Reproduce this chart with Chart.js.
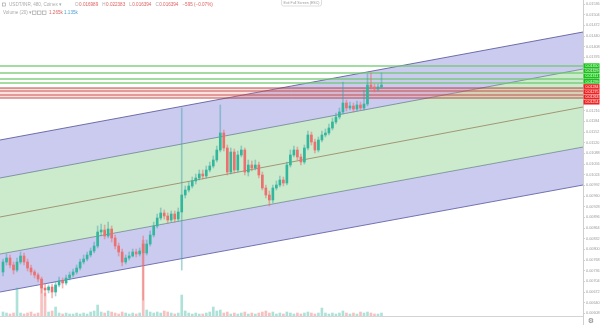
<!DOCTYPE html>
<html><head><meta charset="utf-8">
<script src="https://cdn.jsdelivr.net/npm/chart.js@4.4.1/dist/chart.umd.min.js"></script>
<style>html,body{margin:0;padding:0;background:#fff;overflow:hidden}canvas{display:block}</style>
</head><body>
<canvas id="c" width="600" height="325"></canvas>
<script>
// ---- 8h candles, index 0 = Nov 22 00:00 ----
const openP = [0.00732,0.00762,0.00774,0.00753,0.00738,0.00762,0.00780,0.00762,0.00744,0.00732,
0.00723,0.00711,0.00684,0.00678,0.00687,0.00672,0.00693,0.00705,0.00699,0.00714,
0.00723,0.00732,0.00744,0.00762,0.00771,0.00783,0.00795,0.00810,0.00852,0.00858,
0.00840,0.00861,0.00834,0.00810,0.00792,0.00762,0.00774,0.00780,0.00792,0.00786,
0.00816,0.00789,0.00816,0.00843,0.00870,0.00894,0.00909,0.00900,0.00888,0.00906,
0.00891,0.00912,0.00963,0.00978,0.00990,0.01005,0.01014,0.01026,0.01020,0.01038,
0.01050,0.01068,0.01098,0.01149,0.01104,0.01032,0.01092,0.01038,0.01083,0.01098,
0.01032,0.01053,0.01044,0.01053,0.01023,0.00984,0.00963,0.00948,0.00984,0.00993,
0.01008,0.00999,0.01053,0.01083,0.01098,0.01077,0.01062,0.01104,0.01143,0.01122,
0.01098,0.01128,0.01143,0.01149,0.01164,0.01182,0.01197,0.01212,0.01239,0.01224,
0.01230,0.01221,0.01233,0.01224,0.01236,0.01293,0.01287,0.01281,0.01287];
const closeP = [0.00762,0.00774,0.00753,0.00738,0.00762,0.00780,0.00762,0.00744,0.00732,0.00723,
0.00711,0.00684,0.00678,0.00687,0.00672,0.00693,0.00705,0.00699,0.00714,0.00723,
0.00732,0.00744,0.00762,0.00771,0.00783,0.00795,0.00810,0.00852,0.00858,0.00840,
0.00861,0.00834,0.00810,0.00792,0.00762,0.00774,0.00780,0.00792,0.00786,0.00795,
0.00789,0.00816,0.00843,0.00870,0.00894,0.00909,0.00900,0.00888,0.00906,0.00891,
0.00912,0.00963,0.00978,0.00990,0.01005,0.01014,0.01026,0.01020,0.01038,0.01050,
0.01068,0.01098,0.01149,0.01104,0.01032,0.01092,0.01038,0.01083,0.01098,0.01032,
0.01053,0.01044,0.01053,0.01023,0.00984,0.00963,0.00948,0.00984,0.00993,0.01008,
0.00999,0.01053,0.01083,0.01098,0.01077,0.01062,0.01104,0.01143,0.01122,0.01098,
0.01128,0.01143,0.01149,0.01164,0.01182,0.01197,0.01212,0.01239,0.01224,0.01230,
0.01221,0.01233,0.01224,0.01236,0.01293,0.01287,0.01281,0.01287,0.01293];
const highP = [0.00771,0.00786,0.00783,0.00762,0.00774,0.00792,0.00789,0.00771,0.00753,0.00738,
0.00729,0.00717,0.00696,0.00693,0.00696,0.00702,0.00717,0.00714,0.00723,0.00732,
0.00741,0.00753,0.00771,0.00783,0.00792,0.00804,0.00822,0.00870,0.00876,0.00873,
0.00882,0.00870,0.00843,0.00819,0.00801,0.00783,0.00792,0.00801,0.00801,0.00804,
0.00840,0.00828,0.00855,0.00882,0.00906,0.00924,0.00918,0.00909,0.00915,0.00915,
0.00924,0.01224,0.00990,0.01002,0.01017,0.01026,0.01038,0.01038,0.01050,0.01062,
0.01080,0.01110,0.01233,0.01158,0.01113,0.01104,0.01101,0.01095,0.01110,0.01104,
0.01068,0.01065,0.01068,0.01062,0.01032,0.00993,0.00975,0.00993,0.01005,0.01020,
0.01017,0.01062,0.01098,0.01110,0.01107,0.01086,0.01113,0.01155,0.01152,0.01131,
0.01137,0.01155,0.01161,0.01176,0.01194,0.01209,0.01224,0.01302,0.01248,0.01242,
0.01239,0.01245,0.01242,0.01278,0.01326,0.01329,0.01296,0.01296,0.01329];
const lowP = [0.00720,0.00753,0.00744,0.00726,0.00732,0.00756,0.00753,0.00735,0.00723,0.00714,
0.00702,0.00669,0.00660,0.00669,0.00654,0.00660,0.00687,0.00684,0.00693,0.00708,
0.00717,0.00726,0.00738,0.00756,0.00765,0.00777,0.00789,0.00804,0.00840,0.00831,
0.00834,0.00822,0.00801,0.00780,0.00750,0.00756,0.00768,0.00777,0.00777,0.00780,
0.00648,0.00783,0.00810,0.00837,0.00864,0.00888,0.00891,0.00879,0.00882,0.00882,
0.00885,0.00738,0.00954,0.00972,0.00984,0.00996,0.01008,0.01011,0.01014,0.01032,
0.01044,0.01062,0.01092,0.01095,0.01023,0.01026,0.01029,0.01032,0.01077,0.01023,
0.01020,0.01035,0.01038,0.01014,0.00978,0.00954,0.00930,0.00939,0.00978,0.00987,
0.00990,0.00993,0.01047,0.01077,0.01068,0.01053,0.01056,0.01098,0.01113,0.01089,
0.01092,0.01122,0.01137,0.01143,0.01158,0.01176,0.01191,0.01206,0.01215,0.01218,
0.01212,0.01215,0.01218,0.01218,0.01230,0.01281,0.01272,0.01275,0.01284];
const volume = [1200,900,600,900,8400,900,600,900,1200,600,
900,9300,6900,1200,1500,2700,900,600,900,600,
600,900,600,900,600,1200,1500,3300,1200,900,
1500,1200,900,600,1200,900,600,900,600,900,
22800,1800,1200,900,1200,900,1500,1200,900,600,
900,6300,1500,900,600,900,600,600,900,1200,
2700,1500,1800,900,1200,600,900,600,900,1200,
600,900,600,900,1200,1500,900,1200,600,900,
600,1200,900,600,900,600,900,1200,900,600,
900,2400,900,600,900,600,900,1500,900,600,
900,600,1200,900,1200,900,600,600,900];

// time axis
const tickIdx  = [0,9,18,27,36,45,54,63,72,81,90,99,108,120,129,138,147,156,165];
const tickText = ['22','25','28','Dec','4','7','10','13','16','19','22','25','28','2024','4','7','10','13','16'];

// regression channel (start / end of view)
const spanIdx = [-0.86, 165.5];
const chTop        = [0.01128, 0.01452];
const chInnerUpper = [0.01014, 0.01341];
const chMid        = [0.00897, 0.01227];
const chInnerLower = [0.00786, 0.01107];
const chBottom     = [0.00672, 0.00993];

// horizontal levels
const greenLevels = [0.01350, 0.01329, 0.01311, 0.01299];
const redLevels   = [0.01284, 0.01275, 0.01263, 0.01254];

const TEAL = '#33b79c', RED = '#ec7070';
const idx = openP.map((_, i) => i);
const isUp = idx.map(i => closeP[i] >= openP[i]);

function hline(vals, color, extra) {
  return Object.assign({
    type: 'line',
    data: spanIdx.map((x, k) => ({ x: x, y: vals[k] })),
    borderColor: color, borderWidth: 1, pointRadius: 0, fill: false, order: 10
  }, extra || {});
}
const BLUE_FILL = 'rgba(112,112,212,0.36)';
const GREEN_FILL = 'rgba(128,206,128,0.40)';

const datasets = [
  hline(chTop, 'rgba(80,80,150,0.8)', { fill: '+1', backgroundColor: BLUE_FILL }),
  hline(chInnerUpper, 'rgba(90,120,120,0.7)', { fill: '+2', backgroundColor: GREEN_FILL }),
  hline(chMid, 'rgba(170,90,80,0.85)'),
  hline(chInnerLower, 'rgba(90,110,130,0.7)', { fill: '+1', backgroundColor: BLUE_FILL }),
  hline(chBottom, 'rgba(80,80,150,0.8)'),
];
greenLevels.forEach(v => datasets.push(hline([v, v], 'rgba(110,200,110,0.85)', { borderWidth: 1.4, order: 6 })));
redLevels.forEach((v, k) => datasets.push(hline([v, v], 'rgba(175,45,45,0.85)',
  k === 0 ? { order: 6, fill: '+3', backgroundColor: 'rgba(240,120,110,0.22)' } : { order: 6 })));

datasets.push({
  type: 'bar', label: 'volume', yAxisID: 'yv', order: 3, grouped: false,
  data: idx.map(i => ({ x: i, y: volume[i] })),
  backgroundColor: idx.map(i => isUp[i] ? 'rgba(43,179,154,0.38)' : 'rgba(234,107,107,0.42)'),
  barThickness: 2, borderWidth: 0
});
datasets.push({
  type: 'bar', label: 'wick', order: 2, grouped: false,
  data: idx.map(i => ({ x: i, y: [lowP[i], highP[i]] })),
  backgroundColor: idx.map(i => isUp[i] ? 'rgba(60,160,170,0.45)' : 'rgba(234,107,107,0.5)'),
  barThickness: 1, borderWidth: 0, minBarLength: 1
});
datasets.push({
  type: 'bar', label: 'body', order: 1, grouped: false,
  data: idx.map(i => ({ x: i, y: [openP[i], closeP[i]] })),
  backgroundColor: idx.map(i => isUp[i] ? TEAL : RED),
  barThickness: 2, borderWidth: 0, minBarLength: 1
});

const FONT = '"Liberation Sans", Arial, sans-serif';
const overlay = {
  id: 'overlay',
  afterDraw(chart) {
    const c = chart.ctx, ys = chart.scales.y, a = chart.chartArea;
    c.save();
    c.strokeStyle = '#cfcfcf'; c.lineWidth = 1;
    c.beginPath(); c.moveTo(a.right + 0.5, a.bottom); c.lineTo(a.right + 0.5, 325); c.stroke();
    c.fillStyle = '#777'; c.font = '7px "DejaVu Sans"'; c.textAlign = 'center'; c.textBaseline = 'middle';
    c.fillText('⚙', 591, 321);
    // level labels on the price axis
    const levels = greenLevels.map(v => ({ v, col: '#19c219' })).concat(redLevels.map(v => ({ v, col: '#ee2020' })));
    levels.forEach(l => l.y = ys.getPixelForValue(l.v));
    levels.sort((p, q) => p.y - q.y);
    const h = 5.2, mean = levels.reduce((s, l) => s + l.y, 0) / levels.length;
    let top = mean - h * levels.length / 2;
    c.font = '3.6px ' + FONT; c.textAlign = 'left';
    levels.forEach(l => {
      c.fillStyle = l.col; c.fillRect(a.right + 0.5, top, 16, h - 0.4);
      c.fillStyle = '#fff'; c.fillText(l.v.toFixed(5), a.right + 2.5, top + h / 2);
      top += h;
    });
    // header
    c.textBaseline = 'middle'; c.textAlign = 'left';
    c.strokeStyle = '#9a9a9a'; c.lineWidth = 0.6;
    c.strokeRect(2.5, 3, 3, 3);
    c.font = '4.6px ' + FONT; c.fillStyle = '#aaaaaa';
    c.fillText('USDT/INR, 480, Coinex \u25BE', 9, 5);
    let x = 75;
    const parts = [['O', '0.016989'], ['H', '0.022383'], ['L', '0.016394'], ['C', '0.016394']];
    parts.forEach(p => {
      c.fillStyle = '#aaaaaa'; c.fillText(p[0], x, 5); x += c.measureText(p[0]).width + 0.5;
      c.fillStyle = '#e06060'; c.fillText(p[1], x, 5); x += c.measureText(p[1]).width + 4;
    });
    c.fillStyle = '#e06060'; c.fillText('\u2212595 (\u22120.07%)', x, 5);
    c.fillStyle = '#aaaaaa'; c.fillText('Volume (20) \u25BE', 3, 13);
    [32, 37, 42].forEach(bx => c.strokeRect(bx + 0.5, 11, 3.5, 3.5));
    c.fillStyle = '#e06060'; c.fillText('1.265k', 49, 13);
    c.fillStyle = '#4a9fd0'; c.fillText('1.135k', 64, 13);
    // full-screen pill
    c.strokeStyle = '#d0d0d0'; c.fillStyle = '#fff'; c.lineWidth = 0.7;
    c.beginPath(); c.roundRect(281.5, -3, 40, 9, 2); c.fill(); c.stroke();
    c.fillStyle = '#999'; c.font = '3.6px ' + FONT; c.textAlign = 'center';
    c.fillText('Exit Full Screen (ESC)', 301.5, 2.6);
    c.restore();
  }
};

new Chart(document.getElementById('c'), {
  type: 'bar',
  data: { datasets },
  options: {
    responsive: false, animation: false, devicePixelRatio: 1,
    layout: { padding: 0 },
    plugins: { legend: { display: false }, tooltip: { enabled: false } },
    scales: {
      x: {
        type: 'linear', min: spanIdx[0], max: spanIdx[1], offset: false,
        grid: { display: false },
        border: { display: true, color: '#d4d4d4' },
        ticks: {
          autoSkip: false, maxRotation: 0, padding: 1, color: '#9a9a9a',
          font: { size: 4, family: FONT },
          callback: v => { const k = tickIdx.indexOf(v); return k >= 0 ? tickText[k] : ''; }
        },
        afterBuildTicks: s => { s.ticks = tickIdx.map(v => ({ value: v })); },
        afterFit: s => { s.height = 9; s.paddingLeft = 0; s.paddingRight = 0; }
      },
      y: {
        position: 'right', min: 0.00600, max: 0.01548,
        grid: { display: true, drawOnChartArea: false, drawTicks: true, tickLength: 2, color: '#cfcfcf' },
        border: { display: true, color: '#cfcfcf' },
        ticks: {
          stepSize: 0.00032, includeBounds: false, autoSkip: false, padding: 1,
          color: '#9a9a9a', font: { size: 3.8, family: FONT },
          callback: v => v.toFixed(5)
        },
        afterFit: s => { s.width = 17; s.paddingTop = 0; s.paddingBottom = 0; }
      },
      yv: { display: false, min: 0, max: 95000 }
    }
  },
  plugins: [overlay]
});
</script>
</body></html>
